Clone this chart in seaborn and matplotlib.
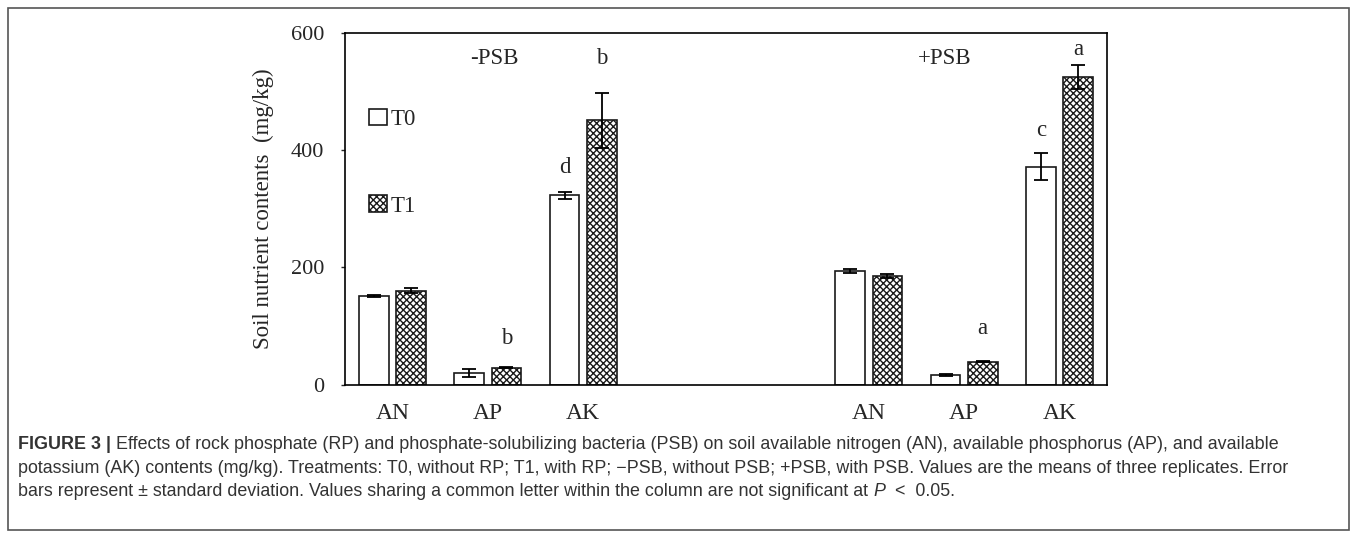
import numpy as np
import pandas as pd
import matplotlib
import matplotlib.pyplot as plt
from matplotlib.patches import Rectangle, Patch
from matplotlib import font_manager
import seaborn as sns

# Values (mg/kg), means and SD
nutrients = ["AN", "AP", "AK"]
t0_minus = [151, 19, 323]
t1_minus = [160, 29, 451]
t0_plus = [194, 16, 372]
t1_plus = [185, 39, 525]
sd_t0_minus = [2, 7, 6]
sd_t1_minus = [4, 1, 47]
sd_t0_plus = [4, 2, 23]
sd_t1_plus = [3, 1, 20]

# significance letters: (group, nutrient, treatment, letter, height)
letter_group = ["-PSB", "-PSB", "-PSB", "+PSB", "+PSB", "+PSB"]
letter_nutrient = ["AP", "AK", "AK", "AP", "AK", "AK"]
letter_treat = ["T1", "T0", "T1", "T1", "T0", "T1"]
letter_text = ["b", "d", "b", "a", "c", "a"]
letter_y = [79, 371, 557, 96, 434, 571]

# slots along the x axis (two empty slots between the groups)
slots = ["AN-", "AP-", "AK-", "gap1", "gap2", "AN+", "AP+", "AK+"]
slot_labels = ["AN", "AP", "AK", "", "", "AN", "AP", "AK"]

rows = []
for grp, t0, t1, s0, s1 in [("-", t0_minus, t1_minus, sd_t0_minus, sd_t1_minus),
                            ("+", t0_plus, t1_plus, sd_t0_plus, sd_t1_plus)]:
    for i, n in enumerate(nutrients):
        rows.append({"slot": n + grp, "treat": "T0", "value": t0[i], "sd": s0[i]})
        rows.append({"slot": n + grp, "treat": "T1", "value": t1[i], "sd": s1[i]})
df = pd.DataFrame(rows)

sns.set_theme(style="white")
installed = {f.name for f in font_manager.fontManager.ttflist}
cap_font = "Liberation Sans Narrow" if "Liberation Sans Narrow" in installed else "Liberation Sans"
plt.rcParams["font.family"] = ["Liberation Serif", "DejaVu Serif"]
plt.rcParams["hatch.linewidth"] = 1.0

fig = plt.figure(figsize=(13.57, 5.38), dpi=100)
ax = fig.add_axes([0.2542, 0.2853, 0.5616, 0.6534])

sns.barplot(data=df, x="slot", y="value", hue="treat", order=slots,
            hue_order=["T0", "T1"], width=0.78, gap=0.2, errorbar=None,
            ax=ax, legend=False)

bar_x = {}
present = [s for s in slots if s in set(df.slot)]
for cont, treat in zip(ax.containers, ["T0", "T1"]):
    sub = df[df.treat == treat].set_index("slot").reindex(present)
    for bar, (name, r) in zip(cont, sub.iterrows()):
        bar.set_linewidth(1.2)
        bar.set_edgecolor("#1a1a1a")
        bar.set_facecolor("white")
        if treat == "T1":
            bar.set_hatch("xxxxx")
        cx = bar.get_x() + bar.get_width() / 2
        bar_x[(name, treat)] = cx
        ax.errorbar(cx, r["value"], yerr=r["sd"], color="black", capsize=5,
                    elinewidth=1.3, capthick=1.3, fmt="none", zorder=5)

for g, n, t, lt, ly in zip(letter_group, letter_nutrient, letter_treat, letter_text, letter_y):
    key = n + ("-" if g == "-PSB" else "+")
    ax.text(bar_x[(key, t)], ly, lt, ha="center", va="center", fontsize=16.5)

ax.text(1.07, 557, "-PSB", ha="center", va="center", fontsize=16.5)
ax.text(5.8, 557, "+PSB", ha="center", va="center", fontsize=16.5)

ax.set_ylim(0, 600)
ax.set_xlim(-0.5, 7.5)
ax.set_yticks([0, 200, 400, 600])
ax.set_xticks(range(len(slots)))
ax.set_xticklabels(slot_labels, fontsize=17)
ax.tick_params(axis="y", labelsize=16, length=3, width=1, direction="out", left=True, pad=12)
ax.tick_params(axis="x", length=0, pad=13)
ax.set_xlabel("")
ax.set_ylabel("Soil nutrient contents  (mg/kg)", fontsize=16.5, labelpad=12)
for sp in ax.spines.values():
    sp.set_color("black")
    sp.set_linewidth(1.2)

handles = [Patch(facecolor="white", edgecolor="#1a1a1a", linewidth=1.2),
           Patch(facecolor="white", edgecolor="#1a1a1a", hatch="xxxxx", linewidth=1.2)]
ax.legend(handles, ["T0", "T1"], loc="upper left", bbox_to_anchor=(0.032, 0.785),
          frameon=False, fontsize=16.5, handlelength=0.75, handleheight=0.75,
          handletextpad=0.2, labelspacing=2.85, borderpad=0, borderaxespad=0)

# caption
cap_kw = dict(fontsize=12.9, color="#333333", family=[cap_font, "DejaVu Sans"], va="bottom")
t = fig.text(0.0133, 0.158, "FIGURE 3 |", fontweight="bold", **cap_kw)
ax.annotate(" Effects of rock phosphate (RP) and phosphate-solubilizing bacteria (PSB) on soil available nitrogen (AN), "
            "available phosphorus (AP), and available", xy=(1, 0), xycoords=t, **cap_kw)
fig.text(0.0133, 0.114, "potassium (AK) contents (mg/kg). Treatments: T0, without RP; T1, with RP; \u2212PSB, "
         "without PSB; +PSB, with PSB. Values are the means of three replicates. Error", **cap_kw)
t3 = fig.text(0.0133, 0.070, "bars represent \u00b1 standard deviation. Values sharing a common letter "
              "within the column are not significant at ", **cap_kw)
t4 = ax.annotate("P", xy=(1, 0), xycoords=t3, style="italic", **cap_kw)
ax.annotate("  <  0.05.", xy=(1, 0), xycoords=t4, **cap_kw)

fig.patches.append(Rectangle((8 / 1357, 8 / 538), 1341 / 1357, 522 / 538, transform=fig.transFigure,
                             fill=False, edgecolor="#555555", linewidth=1.2))

fig.savefig("out.png", dpi=100)
